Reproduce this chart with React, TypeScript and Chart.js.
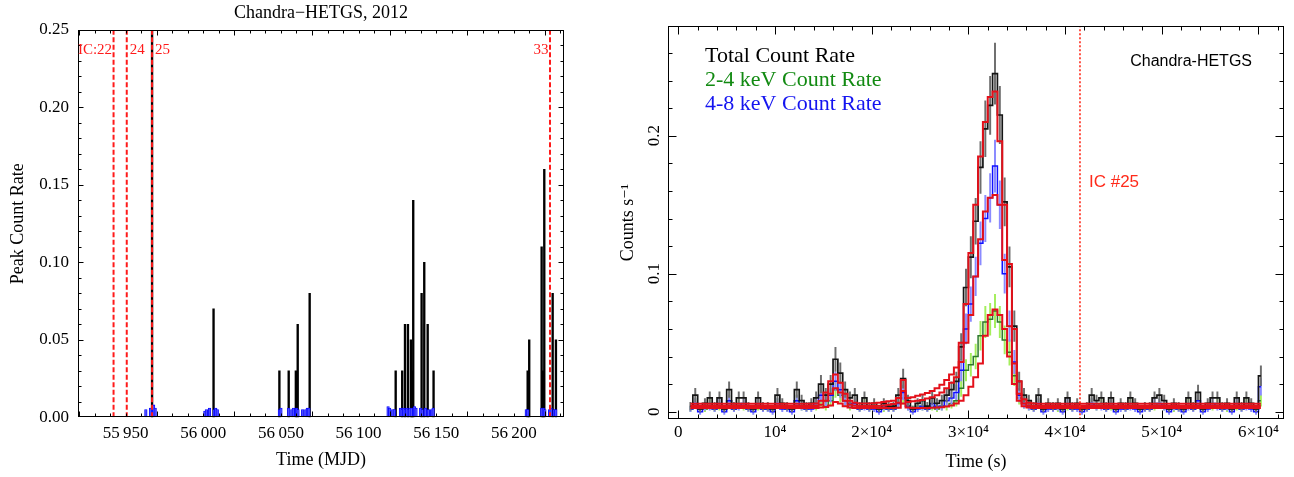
import React, { useEffect, useRef } from 'react';
import { Chart, registerables } from 'chart.js';

Chart.register(...registerables);

const SERIF = "'Liberation Serif', 'Times New Roman', 'DejaVu Serif', serif";
const SANS = "'Liberation Sans', Arial, 'DejaVu Sans', sans-serif";

// ---------------- Left panel: peak count rate per observation ----------------
const peakMjd = [55967.0, 56006.6, 56049.0, 56055.0, 56059.6, 56060.8, 56068.5, 56123.9, 56128.1, 56129.9, 56131.8, 56133.7, 56134.6, 56135.2, 56140.6, 56142.3, 56144.5, 56148.3, 56208.9, 56209.9, 56217.9, 56218.9, 56219.6, 56225.0, 56227.1];
const peakRate = [0.26, 0.07, 0.03, 0.03, 0.03, 0.06, 0.08, 0.03, 0.03, 0.06, 0.06, 0.05, 0.03, 0.14, 0.08, 0.10, 0.06, 0.03, 0.03, 0.05, 0.11, 0.03, 0.16, 0.08, 0.05];

const bluePeakMjd = [55963, 55966, 55968, 55969, 56001, 56002, 56004, 56007, 56008, 56009, 56049, 56050, 56055, 56057, 56058, 56060, 56061, 56064, 56066, 56067, 56068, 56119, 56120, 56122, 56123, 56127, 56128, 56129, 56130, 56131, 56132, 56133, 56134, 56136, 56137, 56140, 56141, 56143, 56145, 56147, 56148, 56208, 56209, 56218, 56219, 56220, 56223, 56224, 56226, 56227];
const bluePeakRate = [0.005, 0.006, 0.008, 0.006, 0.004, 0.005, 0.006, 0.005, 0.006, 0.005, 0.005, 0.006, 0.006, 0.005, 0.006, 0.006, 0.005, 0.005, 0.005, 0.006, 0.006, 0.007, 0.006, 0.005, 0.005, 0.006, 0.005, 0.006, 0.005, 0.006, 0.005, 0.006, 0.006, 0.007, 0.006, 0.006, 0.005, 0.006, 0.005, 0.005, 0.006, 0.005, 0.005, 0.006, 0.006, 0.005, 0.005, 0.006, 0.005, 0.005];

const icMjd = [55942.2, 55950.7, 55967.0, 56223.3];
const icLabels = ['IC:22', '24', '25', '33'];
const icLabelSide = ['left', 'right', 'right', 'left'];

const leftXTicks = [55950, 56000, 56050, 56100, 56150, 56200];
const leftXTickLabels = ['55\u2009950', '56\u2009000', '56\u2009050', '56\u2009100', '56\u2009150', '56\u2009200'];
const leftYTicks = [0, 0.05, 0.1, 0.15, 0.2, 0.25];
const leftYTickLabels = ['0.00', '0.05', '0.10', '0.15', '0.20', '0.25'];

// ---------------- Right panel: light curve of IC #25 (500 s bins, values in 10^-3 counts/s) ----------------
const binStart = 1000;
const binWidth = 500;

const totalRate = [
  4, 12, 2, 6, 10, 4, 10, 2, 16, 4,
  10, 10, 4, 2, 10, 4, 4, 2, 12, 6,
  4, 2, 16, 8, 4, 6, 10, 20, 12, 20,
  38, 28, 16, 10, 12, 4, 10, 4, 6, 2,
  6, 4, 4, 12, 24, 8, 2, 6, 8, 4,
  10, 6, 8, 12, 16, 22, 47, 90, 112, 138,
  177, 205, 222, 245, 215, 152, 105, 62, 22, 12,
  8, 4, 12, 2, 6, 4, 6, 2, 10, 4,
  6, 2, 4, 12, 8, 10, 4, 10, 2, 6,
  4, 10, 6, 2, 4, 4, 10, 12, 8, 2,
  6, 4, 2, 10, 4, 14, 2, 6, 10, 10,
  4, 6, 2, 10, 4, 10, 6, 2, 26,
];
const hardRate = [
  2, 6, 0, 4, 4, 2, 6, 0, 8, 2,
  4, 6, 2, 0, 6, 2, 2, 0, 6, 2,
  2, 0, 8, 4, 2, 2, 6, 12, 8, 12,
  22, 16, 8, 6, 6, 2, 4, 2, 2, 0,
  4, 2, 2, 6, 14, 4, 0, 2, 4, 2,
  6, 4, 4, 8, 10, 14, 30, 60, 78, 98,
  122, 140, 155, 178, 150, 100, 62, 36, 12, 6,
  4, 2, 6, 0, 2, 2, 4, 0, 6, 2,
  2, 0, 2, 6, 4, 4, 2, 6, 0, 2,
  2, 4, 2, 0, 2, 2, 6, 6, 4, 0,
  4, 2, 0, 4, 2, 8, 0, 2, 6, 4,
  2, 4, 0, 6, 2, 4, 2, 0, 18,
];
const softRate = [
  2, 6, 2, 2, 6, 2, 4, 2, 8, 2,
  6, 4, 2, 2, 4, 2, 2, 2, 6, 4,
  2, 2, 8, 4, 2, 4, 4, 8, 4, 8,
  16, 12, 8, 4, 6, 2, 6, 2, 4, 2,
  2, 2, 2, 6, 10, 4, 2, 4, 4, 2,
  4, 2, 4, 4, 6, 8, 17, 30, 34, 40,
  55, 65, 67, 73, 65, 52, 43, 26, 10, 6,
  4, 2, 6, 2, 4, 2, 2, 2, 4, 2,
  4, 2, 2, 6, 4, 6, 2, 4, 2, 4,
  2, 6, 4, 2, 2, 2, 4, 6, 4, 2,
  2, 2, 2, 6, 2, 6, 2, 4, 4, 6,
  2, 2, 2, 4, 2, 6, 4, 2, 8,
];
const modelTotal = [
  5.8, 5.8, 5.8, 5.8, 5.8, 5.8, 5.8, 5.8, 5.8, 5.8,
  5.8, 5.8, 5.8, 5.8, 5.8, 5.8, 5.8, 5.8, 5.8, 5.8,
  5.8, 5.8, 5.8, 5.8, 5.8, 5.8, 6, 8, 14, 22,
  27, 21, 13, 8, 6.5, 6, 6, 6, 6.2, 6.5,
  7, 7.5, 8, 10, 23, 10, 10.5, 11.5, 12.5, 13.5,
  15, 17, 19.5, 23, 27, 32, 50, 78, 115, 150,
  185, 210, 228, 232, 196, 150, 107, 60, 22, 9,
  6.5, 6, 5.8, 5.8, 5.8, 5.8, 5.8, 5.8, 5.8, 5.8,
  5.8, 5.8, 5.8, 5.8, 5.8, 5.8, 5.8, 5.8, 5.8, 5.8,
  5.8, 5.8, 5.8, 5.8, 5.8, 5.8, 5.8, 5.8, 5.8, 5.8,
  5.8, 5.8, 5.8, 5.8, 5.8, 5.8, 5.8, 5.8, 5.8, 5.8,
  5.8, 5.8, 5.8, 5.8, 5.8, 5.8, 5.8, 5.8, 5.8,
];
const modelHard = [
  4.1, 4.1, 4.1, 4.1, 4.1, 4.1, 4.1, 4.1, 4.1, 4.1,
  4.1, 4.1, 4.1, 4.1, 4.1, 4.1, 4.1, 4.1, 4.1, 4.1,
  4.1, 4.1, 4.1, 4.1, 4.1, 4.1, 4.2, 5, 8, 13,
  17, 14, 8, 5, 4.3, 4.1, 4.1, 4.1, 4.2, 4.3,
  4.5, 5, 5.5, 6.5, 15, 7, 7.5, 8, 8.5, 9.5,
  10.5, 12, 14, 17, 21, 25, 36, 50, 70, 98,
  125, 145, 155, 157, 150, 110, 62, 35, 13, 6,
  4.5, 4.2, 4.1, 4.1, 4.1, 4.1, 4.1, 4.1, 4.1, 4.1,
  4.1, 4.1, 4.1, 4.1, 4.1, 4.1, 4.1, 4.1, 4.1, 4.1,
  4.1, 4.1, 4.1, 4.1, 4.1, 4.1, 4.1, 4.1, 4.1, 4.1,
  4.1, 4.1, 4.1, 4.1, 4.1, 4.1, 4.1, 4.1, 4.1, 4.1,
  4.1, 4.1, 4.1, 4.1, 4.1, 4.1, 4.1, 4.1, 4.1,
];
const modelSoft = [
  2.6, 2.6, 2.6, 2.6, 2.6, 2.6, 2.6, 2.6, 2.6, 2.6,
  2.6, 2.6, 2.6, 2.6, 2.6, 2.6, 2.6, 2.6, 2.6, 2.6,
  2.6, 2.6, 2.6, 2.6, 2.6, 2.6, 2.6, 3, 3.5, 4.5,
  7, 6, 4, 3, 2.7, 2.6, 2.6, 2.6, 2.6, 2.6,
  2.6, 2.6, 2.6, 2.8, 6, 3, 2.6, 2.6, 2.6, 2.7,
  2.8, 3, 3.3, 3.7, 4.5, 6, 8, 12, 18, 25,
  35, 55, 70, 74, 70, 60, 40, 20, 8, 4,
  3, 2.7, 2.6, 2.6, 2.6, 2.6, 2.6, 2.6, 2.6, 2.6,
  2.6, 2.6, 2.6, 2.6, 2.6, 2.6, 2.6, 2.6, 2.6, 2.6,
  2.6, 2.6, 2.6, 2.6, 2.6, 2.6, 2.6, 2.6, 2.6, 2.6,
  2.6, 2.6, 2.6, 2.6, 2.6, 2.6, 2.6, 2.6, 2.6, 2.6,
  2.6, 2.6, 2.6, 2.6, 2.6, 2.6, 2.6, 2.6, 2.6,
];

const icTime = 41540;
const legendLabels = ['Total Count Rate', '2-4 keV Count Rate', '4-8 keV Count Rate'];
const legendColors = ['#000000', '#128a12', '#1414f0'];

const rightXTicks = [0, 10000, 20000, 30000, 40000, 50000, 60000];
const rightXTickLabels = ['0', '10\u2074', '2\u00d710\u2074', '3\u00d710\u2074', '4\u00d710\u2074', '5\u00d710\u2074', '6\u00d710\u2074'];
const rightYTicks = [0, 0.1, 0.2];
const rightYTickLabels = ['0', '0.1', '0.2'];

// ---------------- helpers ----------------
function range(count: number, start: number, step: number) {
  const out: number[] = [];
  for (let k = 0; k < count; k++) out.push(start + k * step);
  return out;
}

function drawFrame(chart: any, xMinor: number[], xMajorEvery: number, yMinor: number[], yMajorEvery: number, majLen: number, minLen: number) {
  const { ctx, chartArea: a, scales } = chart;
  const xs = scales.x;
  const ys = scales.y;
  ctx.save();
  ctx.strokeStyle = '#000';
  ctx.lineWidth = 1;
  const L = Math.round(a.left) + 0.5;
  const R = Math.round(a.right) - 0.5;
  const T = Math.round(a.top) + 0.5;
  const B = Math.round(a.bottom) - 0.5;
  ctx.strokeRect(L, T, R - L, B - T);
  ctx.beginPath();
  xMinor.forEach((v, k) => {
    const px = Math.round(xs.getPixelForValue(v)) + 0.5;
    if (px < L || px > R) return;
    const len = k % xMajorEvery === 0 ? majLen : minLen;
    ctx.moveTo(px, B); ctx.lineTo(px, B - len);
    ctx.moveTo(px, T); ctx.lineTo(px, T + len);
  });
  yMinor.forEach((v, k) => {
    const py = Math.round(ys.getPixelForValue(v)) + 0.5;
    if (py < T - 0.1 || py > B + 0.1) return;
    const len = k % yMajorEvery === 0 ? majLen : minLen;
    ctx.moveTo(L, py); ctx.lineTo(L + len, py);
    ctx.moveTo(R, py); ctx.lineTo(R - len, py);
  });
  ctx.stroke();
  ctx.restore();
}

// left: minor ticks every 10 MJD, major every 50
const leftXMinor = range(32, 55920, 10);
const leftYMinor = range(26, 0, 0.01);
// right: minor every 2000 s, major every 10^4; minor 0.02, major 0.1
const rightXMinor = range(32, 0, 2000);
const rightYMinor = range(14, 0, 0.02);

function leftConfig(): any {
  const overlay = {
    id: 'leftOverlay',
    afterDatasetsDraw(chart: any) {
      const { ctx, chartArea: a, scales } = chart;
      drawFrame(chart, leftXMinor, 5, leftYMinor, 5, 5, 3);
      ctx.save();
      ctx.font = `15px ${SERIF}`;
      ctx.fillStyle = '#ff1a1a';
      ctx.textBaseline = 'alphabetic';
      icMjd.forEach((m, i) => {
        const px = scales.x.getPixelForValue(m);
        if (icLabelSide[i] === 'left') {
          ctx.textAlign = 'right';
          ctx.fillText(icLabels[i], px - 1.5, a.top + 24);
        } else {
          ctx.textAlign = 'left';
          ctx.fillText(icLabels[i], px + 3, a.top + 24);
        }
      });
      ctx.restore();
    },
  };
  const icSets = icMjd.map((m) => ({
    type: 'line',
    data: [{ x: m, y: 0 }, { x: m, y: 0.25 }],
    borderColor: '#ff1a1a',
    borderWidth: 2,
    borderDash: [5, 2.5],
    pointRadius: 0,
    order: 0,
  }));
  return {
    type: 'bar',
    data: {
      datasets: [
        ...icSets,
        {
          type: 'bar',
          data: bluePeakMjd.map((m, i) => ({ x: m, y: bluePeakRate[i] })),
          backgroundColor: '#4b4bff',
          borderColor: '#0000ff',
          borderWidth: 0.8,
          barThickness: 2.6,
          grouped: false,
          clip: 0,
          order: 1,
        },
        {
          type: 'bar',
          data: peakMjd.map((m, i) => ({ x: m, y: peakRate[i] })),
          backgroundColor: '#000000',
          borderWidth: 0,
          barThickness: 1.7,
          grouped: false,
          clip: 0,
          order: 2,
        },
      ],
    },
    options: {
      responsive: false,
      animation: false,
      devicePixelRatio: 1,
      events: [],
      layout: { padding: { left: 0, right: 36, top: 0, bottom: 0 } },
      plugins: {
        legend: { display: false },
        tooltip: { enabled: false },
        title: {
          display: true,
          text: 'Chandra\u2212HETGS, 2012',
          color: '#000',
          font: { family: SERIF, size: 18, weight: 'normal' },
          padding: { top: 2.2, bottom: 6.2 },
          fullSize: false,
        },
      },
      scales: {
        x: {
          type: 'linear',
          min: 55919.3,
          max: 56232.3,
          offset: false,
          grid: { display: false, drawTicks: false, offset: false },
          border: { display: false },
          afterBuildTicks: (s: any) => { s.ticks = leftXTicks.map((v) => ({ value: v })); },
          afterFit: (s: any) => { s.height = 59.7; },
          ticks: {
            autoSkip: false,
            maxRotation: 0,
            minRotation: 0,
            padding: 6.5,
            color: '#000',
            font: { family: SERIF, size: 17 },
            callback: (_v: any, i: number) => leftXTickLabels[i],
          },
          title: {
            display: true,
            text: 'Time (MJD)',
            color: '#000',
            font: { family: SERIF, size: 18 },
            padding: { top: 0, bottom: 6.2 },
          },
        },
        y: {
          type: 'linear',
          min: 0,
          max: 0.25,
          grid: { display: false, drawTicks: false },
          border: { display: false },
          afterBuildTicks: (s: any) => { s.ticks = leftYTicks.map((v) => ({ value: v })); },
          afterFit: (s: any) => { s.width = 78; },
          ticks: {
            autoSkip: false,
            padding: 9,
            color: '#000',
            font: { family: SERIF, size: 17 },
            callback: (_v: any, i: number) => leftYTickLabels[i],
          },
          title: {
            display: true,
            text: 'Peak Count Rate',
            color: '#000',
            font: { family: SERIF, size: 18 },
            padding: { top: 7.2, bottom: 0 },
          },
        },
      },
    },
    plugins: [overlay],
  };
}

function rightConfig(): any {
  const centers = totalRate.map((_, i) => binStart + binWidth * (i + 0.5));
  const pts = (arr: number[]) => arr.map((v, i) => ({ x: centers[i], y: v / 1000 }));
  const errs = (arr: number[]) => arr.map((v, i) => {
    const r = v / 1000;
    const e = Math.sqrt(Math.max(r * binWidth, 1)) / binWidth;
    return { x: centers[i], y: [r - e, r + e] };
  });
  const stepLine = (arr: number[], color: string, width: number, order: number) => ({
    type: 'line',
    data: pts(arr),
    borderColor: color,
    borderWidth: width,
    stepped: 'middle',
    pointRadius: 0,
    fill: false,
    clip: 0,
    order,
  });
  const errBars = (arr: number[], color: string, order: number) => ({
    type: 'bar',
    data: errs(arr),
    backgroundColor: color,
    borderWidth: 0,
    barThickness: 1.3,
    grouped: false,
    clip: 0,
    order,
  });
  const overlay = {
    id: 'rightOverlay',
    afterDatasetsDraw(chart: any) {
      const { ctx, chartArea: a, scales } = chart;
      drawFrame(chart, rightXMinor, 5, rightYMinor, 5, 8, 4);
      ctx.save();
      ctx.textBaseline = 'alphabetic';
      ctx.textAlign = 'left';
      ctx.font = `22px ${SERIF}`;
      legendLabels.forEach((t, i) => {
        ctx.fillStyle = legendColors[i];
        ctx.fillText(t, a.left + 37, 61.7 + i * 24.2);
      });
      ctx.font = `16px ${SANS}`;
      ctx.fillStyle = '#000';
      ctx.textAlign = 'right';
      ctx.fillText('Chandra-HETGS', a.right - 32, 66);
      ctx.font = `17px ${SANS}`;
      ctx.fillStyle = '#ff2a1a';
      ctx.textAlign = 'left';
      ctx.fillText('IC #25', scales.x.getPixelForValue(icTime) + 9, 187);
      ctx.restore();
    },
  };
  return {
    type: 'line',
    data: {
      datasets: [
        {
          type: 'line',
          data: [{ x: icTime, y: -0.0055 }, { x: icTime, y: 0.2795 }],
          borderColor: '#ff2a1a',
          borderWidth: 1.6,
          borderDash: [2, 2],
          pointRadius: 0,
          order: 0,
        },
        stepLine(modelTotal, '#e3101a', 2, 0),
        stepLine(modelHard, '#e3101a', 2, 0),
        stepLine(modelSoft, '#e3101a', 2, 0),
        stepLine(totalRate, '#151515', 1.7, 1),
        errBars(totalRate, '#6e6e6e', 2),
        stepLine(hardRate, '#1010ff', 1.5, 3),
        errBars(hardRate, '#8a8aff', 4),
        stepLine(softRate, '#2d7a2d', 1.5, 5),
        errBars(softRate, '#a4ee5c', 6),
      ],
    },
    options: {
      responsive: false,
      animation: false,
      devicePixelRatio: 1,
      events: [],
      layout: { padding: { left: 0, right: 10, top: 26, bottom: 0 } },
      plugins: {
        legend: { display: false },
        tooltip: { enabled: false },
        title: { display: false },
      },
      scales: {
        x: {
          type: 'linear',
          min: -1070,
          max: 62640,
          offset: false,
          grid: { display: false, drawTicks: false, offset: false },
          border: { display: false },
          afterBuildTicks: (s: any) => { s.ticks = rightXTicks.map((v) => ({ value: v })); },
          afterFit: (s: any) => { s.height = 57.7; },
          ticks: {
            autoSkip: false,
            maxRotation: 0,
            minRotation: 0,
            padding: 3.5,
            color: '#000',
            font: { family: SERIF, size: 17 },
            callback: (_v: any, i: number) => rightXTickLabels[i],
          },
          title: {
            display: true,
            text: 'Time (s)',
            color: '#000',
            font: { family: SERIF, size: 18 },
            padding: { top: 0, bottom: 4.2 },
          },
        },
        y: {
          type: 'linear',
          min: -0.0055,
          max: 0.2795,
          grid: { display: false, drawTicks: false },
          border: { display: false },
          afterBuildTicks: (s: any) => { s.ticks = rightYTicks.map((v) => ({ value: v })); },
          afterFit: (s: any) => { s.width = 68; },
          ticks: {
            autoSkip: false,
            minRotation: 90,
            maxRotation: 90,
            crossAlign: 'center',
            padding: 2.4,
            color: '#000',
            font: { family: SERIF, size: 17 },
            callback: (_v: any, i: number) => rightYTickLabels[i],
          },
          title: {
            display: true,
            text: 'Counts s\u207b\u00b9',
            color: '#000',
            font: { family: SERIF, size: 18 },
            padding: { top: 17.2, bottom: 0 },
          },
        },
      },
    },
    plugins: [overlay],
  };
}

export default function App() {
  const leftRef = useRef<HTMLCanvasElement>(null);
  const rightRef = useRef<HTMLCanvasElement>(null);
  useEffect(() => {
    document.body.style.margin = '0';
    const c1 = new Chart(leftRef.current as HTMLCanvasElement, leftConfig());
    const c2 = new Chart(rightRef.current as HTMLCanvasElement, rightConfig());
    return () => {
      c1.destroy();
      c2.destroy();
    };
  }, []);
  return (
    <div style={{ position: 'relative', width: 1294, height: 477, background: '#ffffff' }}>
      <canvas ref={leftRef} width={600} height={477} style={{ position: 'absolute', left: 0, top: 0 }} />
      <canvas ref={rightRef} width={694} height={477} style={{ position: 'absolute', left: 600, top: 0 }} />
    </div>
  );
}
